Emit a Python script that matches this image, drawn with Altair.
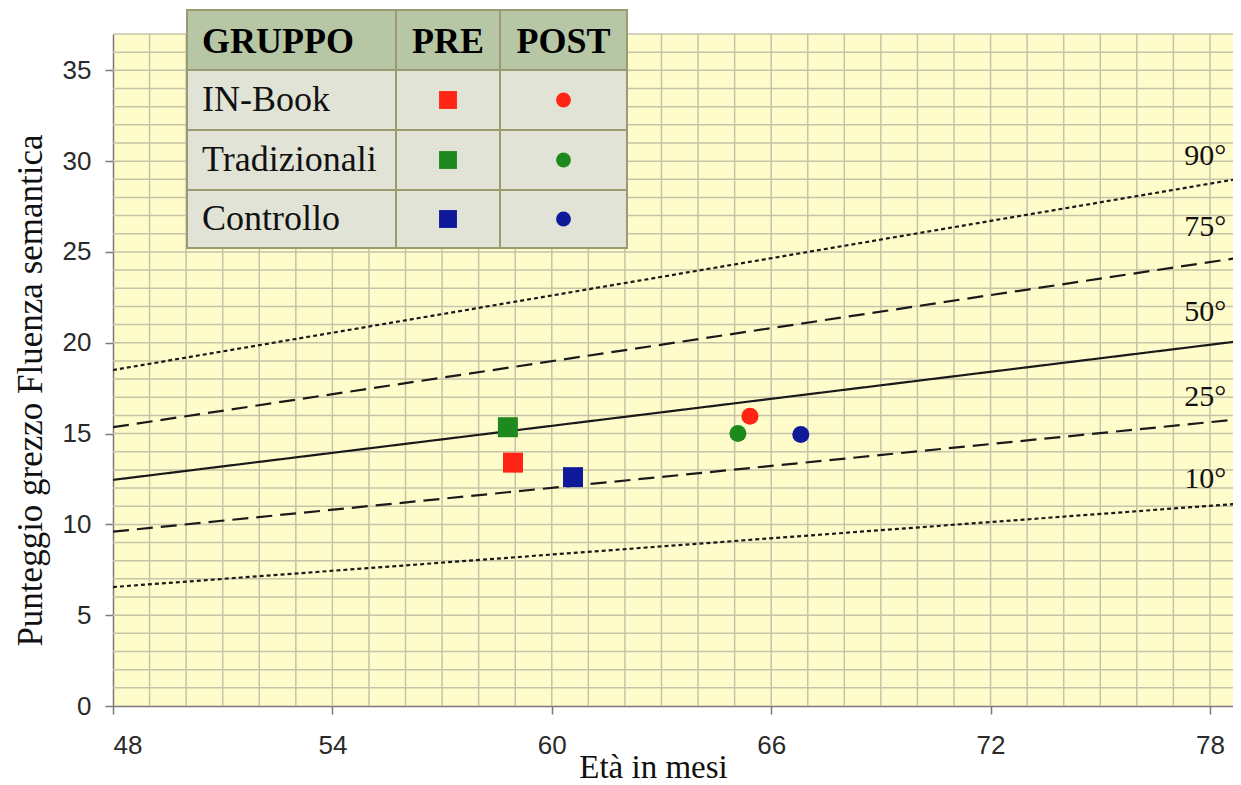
import altair as alt
import pandas as pd

# ---------------- data ----------------
groups = ["IN-Book", "Tradizionali", "Controllo"]
colors = ["#ff2414", "#1e8a1e", "#0e1a9a"]

pre_age = [58.94, 58.80, 60.58]
pre_score = [13.40, 15.35, 12.60]
post_age = [65.42, 65.09, 66.81]
post_score = [15.95, 15.00, 14.95]

percentiles = ["90°", "75°", "50°", "25°", "10°"]
pct_age_start = 48.0
pct_age_end = 78.85
pct_start = [18.50, 15.35, 12.45, 9.60, 6.55]
pct_end = [29.05, 24.70, 20.10, 15.80, 11.15]
pct_label_age = 77.3
pct_label_score = [30.3, 26.4, 21.7, 17.0, 12.5]

x_ticks = [48, 54, 60, 66, 72, 78]
y_ticks = [0, 5, 10, 15, 20, 25, 30, 35]
x_grid = list(range(49, 79))
y_grid = list(range(1, 38))

X_DOMAIN = [48, 78.63]
Y_DOMAIN = [0, 37]

SERIF = "Liberation Serif"
SANS = "Liberation Sans"

# ---------------- frames ----------------
pre_df = pd.DataFrame({"group": groups, "age": pre_age, "score": pre_score})
post_df = pd.DataFrame({"group": groups, "age": post_age, "score": post_score})

line_rows = []
for p, s, e in zip(percentiles, pct_start, pct_end):
    line_rows.append({"pct": p, "age": pct_age_start, "score": s})
    line_rows.append({"pct": p, "age": pct_age_end, "score": e})
lines_df = pd.DataFrame(line_rows)
lab_df = pd.DataFrame({"pct": percentiles, "age": [pct_label_age] * 5, "score": pct_label_score})

xg_df = pd.DataFrame({"age": x_grid})
yg_df = pd.DataFrame({"score": y_grid})

xs = alt.Scale(domain=X_DOMAIN, nice=False, zero=False)
ys = alt.Scale(domain=Y_DOMAIN, nice=False, zero=False)
col_scale = alt.Scale(domain=groups, range=colors)

GRID_COLOR = "#c6c3a6"

vgrid = alt.Chart(xg_df).mark_rule(color=GRID_COLOR, strokeWidth=1.5).encode(
    x=alt.X("age:Q", scale=xs),
    y=alt.datum(Y_DOMAIN[0]),
    y2=alt.datum(Y_DOMAIN[1]),
)
hgrid = alt.Chart(yg_df).mark_rule(color=GRID_COLOR, strokeWidth=1.5).encode(
    y=alt.Y("score:Q", scale=ys),
    x=alt.datum(X_DOMAIN[0]),
    x2=alt.datum(X_DOMAIN[1]),
)

axis_common = dict(
    labelFont=SANS, labelFontSize=26, labelColor="#2a2a2a",
    domainColor="#7a7a7a", domainWidth=1.5,
    tickColor="#7a7a7a", tickWidth=1.5, tickSize=8,
    titleFont=SERIF, titleFontWeight="normal", titleColor="#111111",
    grid=False,
)

lines = alt.Chart(lines_df).mark_line(color="#1a1a1a", strokeWidth=2.2, clip=True).encode(
    x=alt.X("age:Q", scale=xs, axis=alt.Axis(
        values=x_ticks, title="Età in mesi", labelPadding=18, titleFontSize=33,
        titleX=540, titleY=61, titleAlign="center", titleBaseline="middle",
        **axis_common)),
    y=alt.Y("score:Q", scale=ys, axis=alt.Axis(
        values=y_ticks, title="Punteggio grezzo Fluenza semantica", labelPadding=14,
        titleFontSize=35,
        titleX=-83, titleY=356, titleAlign="center", titleBaseline="middle",
        **axis_common)),
    detail="pct:N",
    strokeDash=alt.StrokeDash("pct:N", scale=alt.Scale(
        domain=percentiles,
        range=[[4, 3], [16, 8], [1, 0], [16, 8], [4, 3]]), legend=None),
)

labels = alt.Chart(lab_df).mark_text(
    font=SERIF, fontSize=30, align="left", baseline="middle", color="#111111"
).encode(x=alt.X("age:Q", scale=xs), y=alt.Y("score:Q", scale=ys), text="pct:N")

squares = alt.Chart(pre_df).mark_square(size=400, opacity=1).encode(
    x=alt.X("age:Q", scale=xs), y=alt.Y("score:Q", scale=ys),
    color=alt.Color("group:N", scale=col_scale, legend=None),
)
circles = alt.Chart(post_df).mark_circle(size=290, opacity=1).encode(
    x=alt.X("age:Q", scale=xs), y=alt.Y("score:Q", scale=ys),
    color=alt.Color("group:N", scale=col_scale, legend=None),
)

# ---------------- table legend (pixel layout) ----------------
col_edges = [74, 283, 387, 514]
row_edges = [-24, 36, 96, 156, 214]
cells = []
for r in range(4):
    for c in range(3):
        cells.append({
            "x": col_edges[c], "x2": col_edges[c + 1],
            "y": row_edges[r], "y2": row_edges[r + 1],
            "kind": "head" if r == 0 else "body",
        })
cells_df = pd.DataFrame(cells)
table_rects = alt.Chart(cells_df).mark_rect(stroke="#9c9a70", strokeWidth=2).encode(
    x=alt.X("x:Q", scale=None), x2="x2:Q",
    y=alt.Y("y:Q", scale=None), y2="y2:Q",
    fill=alt.Fill("kind:N", scale=alt.Scale(domain=["head", "body"],
                                            range=["#b7c7a6", "#e1e3d6"]), legend=None),
)

head_df = pd.DataFrame({
    "t": ["GRUPPO", "PRE", "POST"],
    "x": [89, (col_edges[1] + col_edges[2]) / 2, (col_edges[2] + col_edges[3]) / 2],
    "y": [(row_edges[0] + row_edges[1]) / 2 + 2] * 3,
})
head_left = alt.Chart(head_df.iloc[[0]]).mark_text(
    font=SERIF, fontSize=36, fontWeight="bold", align="left", baseline="middle", color="#000000"
).encode(x=alt.X("x:Q", scale=None), y=alt.Y("y:Q", scale=None), text="t:N")
head_center = alt.Chart(head_df.iloc[1:]).mark_text(
    font=SERIF, fontSize=36, fontWeight="bold", align="center", baseline="middle", color="#000000"
).encode(x=alt.X("x:Q", scale=None), y=alt.Y("y:Q", scale=None), text="t:N")

row_centers = [(row_edges[i] + row_edges[i + 1]) / 2 for i in range(1, 4)]
tab_df = pd.DataFrame({
    "group": groups,
    "y": row_centers,
    "xt": [89] * 3,
    "xpre": [(col_edges[1] + col_edges[2]) / 2] * 3,
    "xpost": [(col_edges[2] + col_edges[3]) / 2] * 3,
})
tab_text = alt.Chart(tab_df).mark_text(
    font=SERIF, fontSize=36, align="left", baseline="middle", color="#111111"
).encode(x=alt.X("xt:Q", scale=None), y=alt.Y("y:Q", scale=None), text="group:N")
tab_sq = alt.Chart(tab_df).mark_square(size=320, opacity=1).encode(
    x=alt.X("xpre:Q", scale=None), y=alt.Y("y:Q", scale=None),
    color=alt.Color("group:N", scale=col_scale, legend=None),
)
tab_ci = alt.Chart(tab_df).mark_circle(size=220, opacity=1).encode(
    x=alt.X("xpost:Q", scale=None), y=alt.Y("y:Q", scale=None),
    color=alt.Color("group:N", scale=col_scale, legend=None),
)

chart = alt.layer(
    vgrid, hgrid, lines, labels, squares, circles,
    table_rects, head_left, head_center, tab_text, tab_sq, tab_ci,
).resolve_scale(color="shared").properties(
    width=1120, height=672,
    autosize=alt.AutoSizeParams(type="none"),
    padding={"left": 105, "top": 26, "right": 0, "bottom": 79},
    background="#ffffff",
).configure_view(fill="#fffccc", stroke=None)

chart.save("out.html", embed_options={"renderer": "svg", "actions": False})
